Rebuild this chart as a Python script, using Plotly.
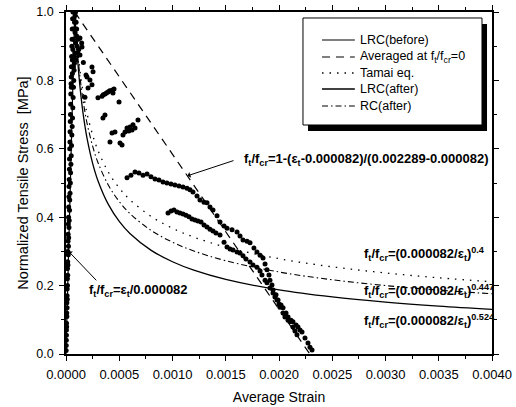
import plotly.graph_objects as go

# ---------------- data ----------------
# model curves
curve_eps = [0.000082, 0.00009, 0.0001, 0.00011, 0.00012, 0.00014, 0.00016, 0.00018, 0.0002,
             0.00025, 0.0003, 0.0004, 0.0005, 0.0006, 0.0008, 0.001, 0.0012, 0.0015, 0.002,
             0.0025, 0.003, 0.0035, 0.004]
tamai_f = [1.0, 0.9635, 0.9237, 0.8891, 0.8587, 0.8073, 0.7654, 0.7302, 0.7000, 0.6403, 0.5953,
           0.5305, 0.4852, 0.4511, 0.4020, 0.3677, 0.3418, 0.3127, 0.2787, 0.2549, 0.2370,
           0.2228, 0.2112]
rc_after_f = [1.0, 0.9592, 0.9151, 0.8770, 0.8435, 0.7873, 0.7417, 0.7037, 0.6713, 0.6076, 0.5600,
              0.4924, 0.4457, 0.4108, 0.3612, 0.3270, 0.3013, 0.2727, 0.2398, 0.2171, 0.2001,
              0.1868, 0.1760]
lrc_after_f = [1.0, 0.9524, 0.9012, 0.8574, 0.8191, 0.7556, 0.7045, 0.6624, 0.6268, 0.5576, 0.5068,
               0.4359, 0.3878, 0.3524, 0.3031, 0.2697, 0.2451, 0.2181, 0.1875, 0.1668, 0.1516,
               0.1398, 0.1304]
before_eps = [0.0, 0.000082]
before_f = [0.0, 1.0]
avg_eps = [0.000082, 0.002289]
avg_f = [1.0, 0.0]

# test points
asc_eps = [0.000001, 0.000003, 0.000004, 0.000005, 0.000007, 0.000008, 0.000010, 0.000011, 0.000013,
           0.000014, 0.000016, 0.000017, 0.000019, 0.000020, 0.000022, 0.000024, 0.000025, 0.000027,
           0.000028, 0.000030, 0.000032, 0.000033, 0.000035, 0.000037, 0.000038, 0.000040, 0.000042,
           0.000044, 0.000045, 0.000047, 0.000049, 0.000051, 0.000053, 0.000055, 0.000057, 0.000059,
           0.000062, 0.000065]
asc_f = [0.01, 0.04, 0.07, 0.09, 0.12, 0.15, 0.17, 0.19, 0.22, 0.25, 0.27, 0.30, 0.33, 0.35, 0.38, 0.40,
         0.43, 0.46, 0.49, 0.51, 0.54, 0.57, 0.60, 0.62, 0.65, 0.68, 0.70, 0.73, 0.76, 0.79, 0.81, 0.84,
         0.87, 0.90, 0.92, 0.95, 0.98, 1.00]
asc2_eps = [0.000002, 0.000004, 0.000006, 0.000008, 0.000010, 0.000012, 0.000014, 0.000016, 0.000018,
            0.000021, 0.000023, 0.000025, 0.000028, 0.000030, 0.000033, 0.000035, 0.000038, 0.000041,
            0.000043, 0.000046, 0.000049, 0.000052, 0.000055, 0.000058, 0.000061, 0.000064, 0.000067,
            0.000070, 0.000073, 0.000076, 0.000079, 0.000082]
asc2_f = [0.025, 0.055, 0.08, 0.11, 0.135, 0.16, 0.20, 0.23, 0.26, 0.29, 0.315, 0.34, 0.37, 0.39, 0.42,
          0.45, 0.47, 0.50, 0.53, 0.555, 0.58, 0.61, 0.64, 0.665, 0.69, 0.72, 0.75, 0.78, 0.80, 0.83,
          0.85, 0.88]
peak_eps = [0.000060, 0.000065, 0.000070, 0.000075, 0.000080, 0.000085, 0.000090, 0.000095, 0.000100,
            0.000105, 0.000110, 0.000070, 0.000080, 0.000090, 0.000100, 0.000115, 0.000120, 0.000131,
            0.000150, 0.000131, 0.000075, 0.000085, 0.000095, 0.000060, 0.000050]
peak_f = [0.86, 0.89, 0.92, 0.95, 0.97, 0.99, 1.0, 0.97, 0.93, 0.90, 0.88, 0.84, 0.87, 0.91, 0.95, 0.92,
          0.89, 0.924, 0.898, 0.874, 0.98, 0.94, 0.86, 0.82, 0.78]
b1_eps = [0.000147, 0.000163, 0.000178, 0.000188, 0.000197, 0.000207, 0.000225, 0.000244, 0.000244,
          0.000254]
b1_f = [0.909, 0.852, 0.751, 0.816, 0.810, 0.778, 0.801, 0.787, 0.839, 0.825]
b2_eps = [0.000300, 0.000338, 0.000350, 0.000366, 0.000380, 0.000394, 0.000410, 0.000423, 0.000437,
          0.000441, 0.000451, 0.000498]
b2_f = [0.749, 0.754, 0.758, 0.760, 0.763, 0.766, 0.770, 0.769, 0.772, 0.763, 0.775, 0.737]
b3_eps = [0.000347, 0.000366, 0.000413, 0.000432, 0.000460, 0.000507, 0.000526, 0.000535, 0.000554,
          0.000573, 0.000601, 0.000620, 0.000629, 0.000648, 0.000676, 0.000590]
b3_f = [0.690, 0.699, 0.620, 0.646, 0.649, 0.617, 0.611, 0.640, 0.649, 0.661, 0.664, 0.655, 0.670,
        0.661, 0.684, 0.652]
b4_eps = [0.000573, 0.000610, 0.000648, 0.000685, 0.000723, 0.000761, 0.000798, 0.000836, 0.000873,
          0.000911, 0.000948, 0.000986, 0.001023, 0.001061, 0.001099, 0.001136, 0.001164, 0.001192,
          0.001230, 0.001258, 0.001296, 0.001324, 0.001352, 0.001380, 0.001418, 0.001446, 0.001484,
          0.001512, 0.001559, 0.001606, 0.001634, 0.001662, 0.001700, 0.001728, 0.001765, 0.001793,
          0.001822, 0.001850, 0.001869, 0.001887, 0.001906, 0.001915, 0.001934, 0.001944, 0.001972,
          0.001991, 0.002019, 0.002038, 0.002066, 0.002085, 0.002113, 0.002131, 0.002160, 0.002178,
          0.002197, 0.002216, 0.002244, 0.002272, 0.002291, 0.002310]
b4_f = [0.515, 0.523, 0.532, 0.529, 0.523, 0.526, 0.518, 0.512, 0.509, 0.503, 0.500, 0.497, 0.494,
        0.491, 0.488, 0.485, 0.480, 0.474, 0.462, 0.450, 0.444, 0.442, 0.430, 0.421, 0.404, 0.386,
        0.374, 0.368, 0.363, 0.357, 0.345, 0.333, 0.330, 0.325, 0.310, 0.298, 0.289, 0.281, 0.263,
        0.246, 0.231, 0.216, 0.202, 0.187, 0.173, 0.158, 0.143, 0.135, 0.120, 0.108, 0.099, 0.094,
        0.085, 0.079, 0.070, 0.064, 0.047, 0.032, 0.020, 0.012]
b5_eps = [0.000958, 0.000986, 0.001014, 0.001042, 0.001070, 0.001099, 0.001127, 0.001155, 0.001183,
          0.001211, 0.001239, 0.001268, 0.001296, 0.001324, 0.001352, 0.001380, 0.001408, 0.001446,
          0.001484, 0.001512, 0.001540, 0.001568, 0.001606, 0.001634, 0.001662, 0.001690, 0.001728,
          0.001756, 0.001793, 0.001822, 0.001840, 0.001869, 0.001887, 0.001915, 0.001944, 0.001962,
          0.001981, 0.002000, 0.002009, 0.002038, 0.002056, 0.002085, 0.002103, 0.002131, 0.002150,
          0.002169]
b5_f = [0.412, 0.418, 0.421, 0.415, 0.412, 0.409, 0.406, 0.401, 0.395, 0.392, 0.389, 0.386, 0.377,
        0.371, 0.365, 0.360, 0.354, 0.348, 0.327, 0.313, 0.307, 0.304, 0.298, 0.295, 0.287, 0.278,
        0.269, 0.260, 0.254, 0.243, 0.231, 0.216, 0.208, 0.193, 0.178, 0.167, 0.158, 0.146, 0.137,
        0.120, 0.108, 0.099, 0.094, 0.079, 0.067, 0.056]

x_ticks = [0.0, 0.0005, 0.001, 0.0015, 0.002, 0.0025, 0.003, 0.0035, 0.004]
y_ticks = [0.0, 0.2, 0.4, 0.6, 0.8, 1.0]

legend_labels = ["LRC(before)", "Averaged at f<sub>t</sub>/f<sub>cr</sub>=0", "Tamai eq.",
                 "LRC(after)", "RC(after)"]

# ---------------- figure ----------------
FONT = "Arial, Liberation Sans, sans-serif"
DASH_AVG = "8px,6px"
DASH_TAMAI = "1.5px,6px"
DASH_RC = "6px,3px,1.5px,3px"
fig = go.Figure()

pts_x = asc_eps + asc2_eps + peak_eps + b1_eps + b2_eps + b3_eps + b4_eps + b5_eps
pts_y = asc_f + asc2_f + peak_f + b1_f + b2_f + b3_f + b4_f + b5_f
fig.add_trace(go.Scatter(x=pts_x, y=pts_y, mode="markers", showlegend=False,
                         marker=dict(color="black", size=5), name="Test"))

styles = [
    (before_eps, before_f, dict(color="black", width=1.2), "linear"),
    (avg_eps, avg_f, dict(color="black", width=1.2, dash=DASH_AVG), "linear"),
    (curve_eps, tamai_f, dict(color="black", width=1.3, dash=DASH_TAMAI), "spline"),
    (curve_eps, lrc_after_f, dict(color="black", width=1.3), "spline"),
    (curve_eps, rc_after_f, dict(color="black", width=1.1, dash=DASH_RC), "spline"),
]
for (xs, ys, ln, shp), name in zip(styles, legend_labels):
    fig.add_trace(go.Scatter(x=xs, y=ys, mode="lines", name=name, line=ln, line_shape=shp,
                             showlegend=False))

ann_font = dict(family=FONT, size=13, color="black")
anns = [
    dict(x=0.001653, y=0.57, text="<b>f<sub>t</sub>/f<sub>cr</sub>=1-(ε<sub>t</sub>-0.000082)/(0.002289-0.000082)</b>"),
    dict(x=0.002779, y=0.292, text="<b>f<sub>t</sub>/f<sub>cr</sub>=(0.000082/ε<sub>t</sub>)<sup>0.4</sup></b>"),
    dict(x=0.002779, y=0.184, text="<b>f<sub>t</sub>/f<sub>cr</sub>=(0.000082/ε<sub>t</sub>)<sup>0.447</sup></b>"),
    dict(x=0.002779, y=0.097, text="<b>f<sub>t</sub>/f<sub>cr</sub>=(0.000082/ε<sub>t</sub>)<sup>0.524</sup></b>"),
    dict(x=0.000197, y=0.185, text="<b>f<sub>t</sub>/f<sub>cr</sub>=ε<sub>t</sub>/0.000082</b>"),
]
for a in anns:
    fig.add_annotation(x=a["x"], y=a["y"], text=a["text"], showarrow=False, xanchor="left",
                       yanchor="middle", font=ann_font)
# arrows
fig.add_annotation(x=0.00114, y=0.521, ax=0.001587, ay=0.567, axref="x", ayref="y", text="",
                   showarrow=True, arrowhead=1, arrowsize=1, arrowwidth=1, arrowcolor="black")
fig.add_annotation(x=0.000025, y=0.30, ax=0.000298, ay=0.211, axref="x", ayref="y", text="",
                   showarrow=True, arrowhead=1, arrowsize=1, arrowwidth=1, arrowcolor="black")

# ---- legend box (drawn with shapes) ----
fig.add_shape(type="rect", xref="paper", yref="paper", x0=0.5681, x1=0.9883, y0=0.652, y1=0.965,
              fillcolor="black", line=dict(width=0), layer="above")
fig.add_shape(type="rect", xref="paper", yref="paper", x0=0.5563, x1=0.9765, y0=0.6696, y1=0.9825,
              fillcolor="white", line=dict(color="black", width=1), layer="above")
row_y = [0.9181, 0.8684, 0.8216, 0.7749, 0.7251]
leg_dash = ["solid", DASH_AVG, DASH_TAMAI, "solid", DASH_RC]
leg_w = [1.2, 1.2, 1.3, 1.3, 1.1]
for yy, dsh, w, lab in zip(row_y, leg_dash, leg_w, legend_labels):
    fig.add_shape(type="line", xref="paper", yref="paper", x0=0.601, x1=0.678, y0=yy, y1=yy,
                  line=dict(color="black", width=w, dash=dsh), layer="above")
    fig.add_annotation(xref="paper", yref="paper", x=0.6854, y=yy, text=lab, showarrow=False,
                       xanchor="left", yanchor="middle",
                       font=dict(family=FONT, size=12.5, color="black"))

axis_common = dict(showline=True, linecolor="black", linewidth=1.5, mirror="allticks",
                   ticks="outside", ticklen=5, tickwidth=1, tickcolor="black",
                   showgrid=False, zeroline=False, ticklabelstandoff=3, automargin=False)
fig.update_xaxes(range=[0, 0.004], tickvals=x_ticks, ticktext=[f"{v:.4f}" for v in x_ticks],
                 tickfont=dict(family=FONT, size=13, color="black"),
                 minor=dict(ticks="outside", ticklen=3, dtick=0.00025, tick0=0, tickcolor="black"),
                 title=dict(text="Average Strain", font=dict(family=FONT, size=14, color="black"), standoff=11),
                 **axis_common)
fig.update_yaxes(range=[0, 1], tickvals=y_ticks, ticktext=[f"{v:.1f}" for v in y_ticks],
                 tickfont=dict(family=FONT, size=12.5, color="black"),
                 minor=dict(ticks="outside", ticklen=3, dtick=0.1, tick0=0, tickcolor="black"),
                 title=dict(text="Normalized Tensile Stress  [MPa]", font=dict(family=FONT, size=14.5, color="black"), standoff=4),
                 **axis_common)

fig.update_layout(
    width=516, height=407,
    margin=dict(l=66, r=24, t=12, b=53),
    paper_bgcolor="white", plot_bgcolor="white",
    font=dict(family=FONT, color="black"),
    showlegend=False,
)

fig.write_html("out.html")
